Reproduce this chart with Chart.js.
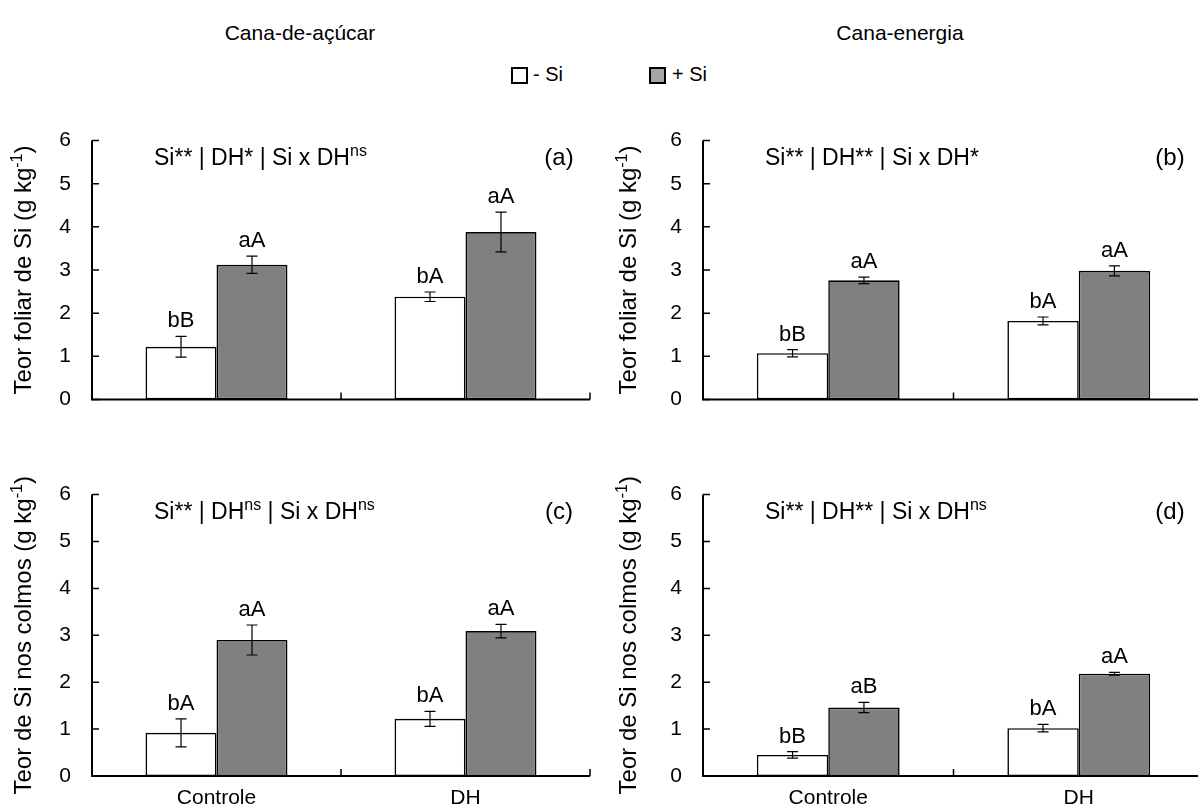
<!DOCTYPE html>
<html>
<head>
<meta charset="utf-8">
<script src="https://cdn.jsdelivr.net/npm/chart.js@4.4.1/dist/chart.umd.min.js"></script>
<style>
  html, body { margin: 0; padding: 0; width: 1198px; height: 812px; overflow: hidden; background: #fff; }
  body { position: relative; font-family: Arial, "Liberation Sans", sans-serif; color: #000; }
  .panel { position: absolute; }
  .title { position: absolute; top: 21px; font-size: 21px; transform: translateX(-50%); white-space: nowrap; }
  .sw { position: absolute; top: 67px; width: 13px; height: 13px; border: 2px solid #000; }
  .lt { position: absolute; top: 63px; font-size: 20px; white-space: nowrap; }
</style>
</head>
<body>
<div class="title" style="left:300px">Cana-de-açúcar</div>
<div class="title" style="left:900px">Cana-energia</div>
<div id="legend"></div>

<div class="panel" style="left:0;top:107px;width:600px;height:326px"><canvas id="chartA"></canvas></div>
<div class="panel" style="left:600px;top:107px;width:610px;height:326px"><canvas id="chartB"></canvas></div>
<div class="panel" style="left:0;top:461px;width:600px;height:351px"><canvas id="chartC"></canvas></div>
<div class="panel" style="left:600px;top:461px;width:610px;height:351px"><canvas id="chartD"></canvas></div>

<script>
const categories = ['Controle', 'DH'];
const seriesNames = ['- Si', '+ Si'];
const yTicks = [0, 1, 2, 3, 4, 5, 6];

// (a) leaf Si, sugarcane
const leafCaneMinus = [1.22, 2.38];
const leafCanePlus = [3.12, 3.88];
const leafCaneMinusErr = [0.24, 0.11];
const leafCanePlusErr = [0.20, 0.46];
const leafCaneMinusLetters = ['bB', 'bA'];
const leafCanePlusLetters = ['aA', 'aA'];

// (b) leaf Si, energy cane
const leafEnergyMinus = [1.07, 1.82];
const leafEnergyPlus = [2.76, 2.98];
const leafEnergyMinusErr = [0.085, 0.09];
const leafEnergyPlusErr = [0.075, 0.115];
const leafEnergyMinusLetters = ['bB', 'bA'];
const leafEnergyPlusLetters = ['aA', 'aA'];

// (c) stalk Si, sugarcane
const stalkCaneMinus = [0.92, 1.22];
const stalkCanePlus = [2.90, 3.09];
const stalkCaneMinusErr = [0.30, 0.16];
const stalkCanePlusErr = [0.32, 0.145];
const stalkCaneMinusLetters = ['bA', 'bA'];
const stalkCanePlusLetters = ['aA', 'aA'];

// (d) stalk Si, energy cane
const stalkEnergyMinus = [0.45, 1.02];
const stalkEnergyPlus = [1.46, 2.18];
const stalkEnergyMinusErr = [0.07, 0.08];
const stalkEnergyPlusErr = [0.11, 0.03];
const stalkEnergyMinusLetters = ['bB', 'bA'];
const stalkEnergyPlusLetters = ['aB', 'aA'];

// ANOVA notes: [text, superscript?]
const noteA = [['Si** | DH* | Si x DH', false], ['ns', true]];
const noteB = [['Si** | DH** | Si x DH*', false]];
const noteC = [['Si** | DH', false], ['ns', true], [' | Si x DH', false], ['ns', true]];
const noteD = [['Si** | DH** | Si x DH', false], ['ns', true]];

const leafTitle = [['Teor foliar de Si (g kg', false], ['-1', true], [')', false]];
const stalkTitle = [['Teor de Si nos colmos (g kg', false], ['-1', true], [')', false]];

const FONT = 'Arial, "Liberation Sans", sans-serif';
const fillColors = ['#ffffff', '#808080'];

// legend
const legend = document.getElementById('legend');
[[511, '#ffffff', 533], [649, '#a6a6a6', 672]].forEach(([x, c, tx], i) => {
  const sw = document.createElement('span');
  sw.className = 'sw'; sw.style.left = x + 'px'; sw.style.background = c;
  const lt = document.createElement('span');
  lt.className = 'lt'; lt.style.left = tx + 'px'; lt.textContent = seriesNames[i];
  legend.appendChild(sw); legend.appendChild(lt);
});

// draws a run of text with optional superscript pieces, starting at x
function drawRich(ctx, parts, x, y, size, align) {
  const supSize = Math.round(size * 0.68);
  let total = 0;
  parts.forEach(([t, sup]) => {
    ctx.font = (sup ? supSize : size) + 'px ' + FONT;
    total += ctx.measureText(t).width;
  });
  let cx = align === 'center' ? x - total / 2 : x;
  ctx.textAlign = 'left';
  ctx.textBaseline = 'alphabetic';
  parts.forEach(([t, sup]) => {
    ctx.font = (sup ? supSize : size) + 'px ' + FONT;
    ctx.fillText(t, cx, sup ? y - size * 0.36 : y);
    cx += ctx.measureText(t).width;
  });
}

const panelExtras = {
  id: 'panelExtras',
  afterDraw(chart, args, opts) {
    const ctx = chart.ctx;
    const xs = chart.scales.x, ys = chart.scales.y;
    const area = chart.chartArea;
    ctx.save();
    ctx.fillStyle = '#000';
    ctx.strokeStyle = '#000';

    // error bars and letters
    chart.data.datasets.forEach((ds, di) => {
      chart.getDatasetMeta(di).data.forEach((bar, i) => {
        const v = ds.data[i], e = opts.err[di][i];
        const top = ys.getPixelForValue(v + e), bot = ys.getPixelForValue(v - e);
        ctx.lineWidth = 1.2;
        ctx.beginPath();
        ctx.moveTo(bar.x, top); ctx.lineTo(bar.x, bot);
        ctx.moveTo(bar.x - 5.5, top); ctx.lineTo(bar.x + 5.5, top);
        ctx.moveTo(bar.x - 5.5, bot); ctx.lineTo(bar.x + 5.5, bot);
        ctx.stroke();
        ctx.font = '22px ' + FONT;
        ctx.textAlign = 'center';
        ctx.textBaseline = 'alphabetic';
        ctx.fillText(opts.letters[di][i], bar.x, top - 9);
      });
    });

    // axes
    ctx.lineWidth = 2;
    ctx.beginPath();
    ctx.moveTo(area.left, area.top); ctx.lineTo(area.left, area.bottom + 1);
    ctx.moveTo(area.left - 1, area.bottom); ctx.lineTo(area.right, area.bottom);
    ctx.stroke();
    ctx.lineWidth = 1.5;
    ctx.beginPath();
    yTicks.forEach(t => {
      const py = ys.getPixelForValue(t);
      ctx.moveTo(area.left, py); ctx.lineTo(area.left + 7, py);
    });
    const step = xs.getPixelForValue(1) - xs.getPixelForValue(0);
    categories.forEach((c, i) => {
      const px = xs.getPixelForValue(i) + step / 2;
      ctx.moveTo(px, area.bottom); ctx.lineTo(px, area.bottom - 7);
    });
    ctx.stroke();

    // ANOVA note and panel tag
    drawRich(ctx, opts.note, area.left + 62, area.top + 24, 23, 'left');
    ctx.font = '24px ' + FONT;
    ctx.textAlign = 'center';
    ctx.fillText(opts.tag, area.left + 467, area.top + 24);

    // rotated axis title
    ctx.translate(opts.titleX, (area.top + area.bottom) / 2);
    ctx.rotate(-Math.PI / 2);
    drawRich(ctx, opts.yTitle, 0, 9, 24, 'center');
    ctx.restore();
  }
};

function makePanel(id, cfg) {
  new Chart(document.getElementById(id), {
    type: 'bar',
    data: {
      labels: categories,
      datasets: [cfg.minus, cfg.plus].map((d, i) => ({
        label: seriesNames[i],
        data: d,
        backgroundColor: fillColors[i],
        borderColor: '#000',
        borderWidth: 1.6,
        borderSkipped: false,
        categoryPercentage: 0.57,
        barPercentage: 1
      }))
    },
    options: {
      responsive: true,
      maintainAspectRatio: false,
      animation: false,
      layout: { autoPadding: false, padding: { top: 30, right: cfg.padRight, left: 0, bottom: 0 } },
      plugins: {
        legend: { display: false },
        tooltip: { enabled: false },
        panelExtras: {
          err: [cfg.minusErr, cfg.plusErr],
          letters: [cfg.minusLetters, cfg.plusLetters],
          note: cfg.note,
          tag: cfg.tag,
          yTitle: cfg.yTitle,
          titleX: cfg.titleX
        }
      },
      scales: {
        x: {
          grid: { display: false, drawTicks: false },
          border: { display: false },
          ticks: { display: cfg.showLabels, color: '#000', font: { family: FONT, size: 21 }, padding: 10 },
          afterFit(s) { s.height = cfg.xHeight; }
        },
        y: {
          min: 0,
          max: 6,
          grid: { display: false, drawTicks: false },
          border: { display: false },
          afterBuildTicks(s) { s.ticks = yTicks.map(v => ({ value: v })); },
          ticks: { color: '#000', font: { family: FONT, size: 21 }, padding: 21 },
          afterFit(s) { s.width = cfg.yWidth; }
        }
      }
    },
    plugins: [panelExtras]
  });
}

makePanel('chartA', {
  minus: leafCaneMinus, plus: leafCanePlus,
  minusErr: leafCaneMinusErr, plusErr: leafCanePlusErr,
  minusLetters: leafCaneMinusLetters, plusLetters: leafCanePlusLetters,
  note: noteA, tag: '(a)', yTitle: leafTitle, titleX: 22,
  yWidth: 92, padRight: 10, xHeight: 10, showLabels: false
});
makePanel('chartB', {
  minus: leafEnergyMinus, plus: leafEnergyPlus,
  minusErr: leafEnergyMinusErr, plusErr: leafEnergyPlusErr,
  minusLetters: leafEnergyMinusLetters, plusLetters: leafEnergyPlusLetters,
  note: noteB, tag: '(b)', yTitle: leafTitle, titleX: 27,
  yWidth: 103, padRight: 6, xHeight: 10, showLabels: false
});
makePanel('chartC', {
  minus: stalkCaneMinus, plus: stalkCanePlus,
  minusErr: stalkCaneMinusErr, plusErr: stalkCanePlusErr,
  minusLetters: stalkCaneMinusLetters, plusLetters: stalkCanePlusLetters,
  note: noteC, tag: '(c)', yTitle: stalkTitle, titleX: 22,
  yWidth: 92, padRight: 10, xHeight: 36, showLabels: true
});
makePanel('chartD', {
  minus: stalkEnergyMinus, plus: stalkEnergyPlus,
  minusErr: stalkEnergyMinusErr, plusErr: stalkEnergyPlusErr,
  minusLetters: stalkEnergyMinusLetters, plusLetters: stalkEnergyPlusLetters,
  note: noteD, tag: '(d)', yTitle: stalkTitle, titleX: 27,
  yWidth: 103, padRight: 6, xHeight: 36, showLabels: true
});
</script>
</body>
</html>
